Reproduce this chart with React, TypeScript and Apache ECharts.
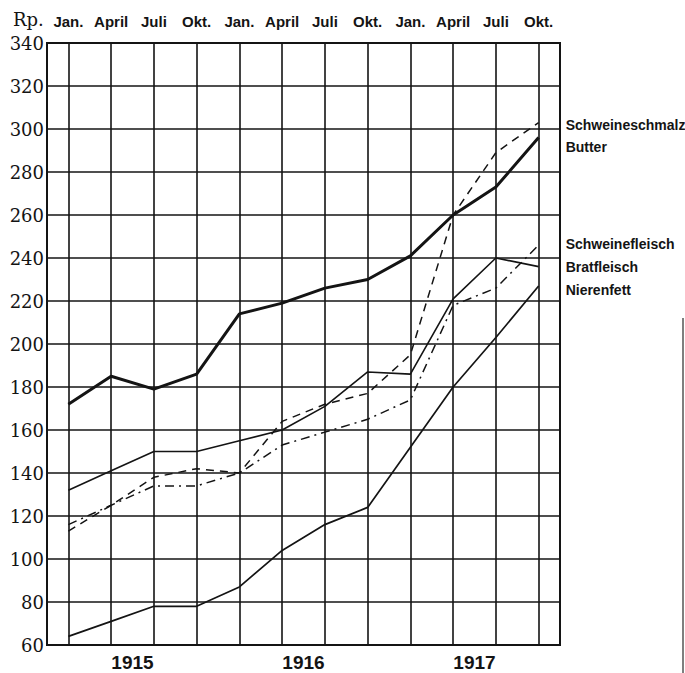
import React, { useEffect, useRef } from "react";
import * as echarts from "echarts";

const months = ["Jan.", "April", "Juli", "Okt.", "Jan.", "April", "Juli", "Okt.", "Jan.", "April", "Juli", "Okt."];
const years = ["1915", "1916", "1917"];
const yTicks = { min: 60, max: 340, step: 20 };
const unitLabel = "Rp.";

const schweineschmalz = [113, 125, 138, 142, 140, 164, 172, 177, 195, 260, 289, 303];
const butter = [172, 185, 179, 186, 214, 219, 226, 230, 241, 260, 273, 296];
const schweinefleisch = [116, 125, 134, 134, 140, 153, 159, 165, 174, 218, 226, 246];
const bratfleisch = [132, 141, 150, 150, 155, 160, 171, 187, 186, 221, 240, 236];
const nierenfett = [64, 71, 78, 78, 87, 104, 116, 124, 152, 180, 203, 227];

const INK = "#141414";
const SANS = "'Liberation Sans', Arial, sans-serif";
const SERIF = "'DejaVu Serif', serif";

function endLabel(name: string, dy: number) {
  return {
    show: true,
    formatter: name,
    distance: 27,
    offset: [0, dy],
    color: INK,
    fontFamily: SANS,
    fontWeight: "bold",
    fontSize: 14,
    align: "left",
  };
}

export default function App() {
  const ref = useRef<HTMLDivElement>(null);
  useEffect(() => {
    if (!ref.current) return;
    const chart = echarts.init(ref.current, null, { renderer: "svg" });
    const base = {
      type: "line",
      showSymbol: false,
      symbol: "none",
      xAxisIndex: 0,
      yAxisIndex: 0,
    };
    chart.setOption({
      animation: false,
      backgroundColor: "#fff",
      grid: {
        left: 47,
        right: 125,
        top: 43,
        bottom: 28,
        show: true,
        borderColor: INK,
        borderWidth: 2,
      },
      xAxis: [
        {
          type: "category",
          position: "top",
          data: months,
          boundaryGap: true,
          axisLine: { show: false },
          axisTick: { show: false },
          splitLine: { show: false },
          axisLabel: {
            interval: 0,
            margin: 14,
            color: INK,
            fontFamily: SANS,
            fontWeight: "bold",
            fontSize: 15,
          },
        },
        {
          type: "value",
          position: "bottom",
          min: -0.5,
          max: 11.5,
          interval: 2,
          axisLine: { show: false },
          axisTick: { show: false },
          splitLine: { show: false },
          axisLabel: {
            margin: 8,
            color: INK,
            fontFamily: SANS,
            fontWeight: "bold",
            fontSize: 19,
            showMinLabel: true,
            showMaxLabel: true,
            formatter: (v: number) => {
              const i = (v - 1.5) / 4;
              return Number.isInteger(i) && i >= 0 && i < years.length ? years[i] : "";
            },
          },
        },
      ],
      yAxis: {
        type: "value",
        min: yTicks.min,
        max: yTicks.max,
        interval: yTicks.step,
        axisLine: { show: false },
        axisTick: { show: false },
        splitLine: { show: true, lineStyle: { color: INK, width: 1.6 } },
        axisLabel: {
          margin: 3,
          color: INK,
          fontFamily: SERIF,
          fontSize: 18,
        },
      },
      series: [
        {
          ...base,
          name: "Butter",
          data: butter,
          z: 5,
          lineStyle: { color: INK, width: 3, type: "solid" },
          endLabel: endLabel("Butter", 9),
          markLine: {
            silent: true,
            symbol: "none",
            label: { show: false },
            z: 1,
            lineStyle: { color: INK, width: 1.6, type: "solid" },
            data: months.map((_, i) => ({ xAxis: i })),
          },
        },
        {
          ...base,
          name: "Schweineschmalz",
          data: schweineschmalz,
          lineStyle: { color: INK, width: 1.5, type: [8, 6] },
          endLabel: endLabel("Schweineschmalz", 2),
        },
        {
          ...base,
          name: "Schweinefleisch",
          data: schweinefleisch,
          lineStyle: { color: INK, width: 1.5, type: [9, 5, 2, 5] },
          endLabel: endLabel("Schweinefleisch", -1),
        },
        {
          ...base,
          name: "Bratfleisch",
          data: bratfleisch,
          lineStyle: { color: INK, width: 1.6, type: "solid" },
          endLabel: endLabel("Bratfleisch", 0),
        },
        {
          ...base,
          name: "Nierenfett",
          data: nierenfett,
          lineStyle: { color: INK, width: 1.7, type: "solid" },
          endLabel: endLabel("Nierenfett", 4),
        },
      ],
      graphic: [
        {
          type: "text",
          left: 13,
          top: 10,
          style: { text: unitLabel, fill: INK, font: `18px ${SERIF}` },
          silent: true,
        },
        {
          type: "line",
          shape: { x1: 683, y1: 318, x2: 683, y2: 673 },
          style: { stroke: "#555", lineWidth: 1.5 },
          silent: true,
        },
      ],
    });
    return () => chart.dispose();
  }, []);
  return (
    <div
      ref={ref}
      style={{ position: "fixed", left: 0, top: 0, width: 685, height: 673, background: "#fff" }}
    />
  );
}
